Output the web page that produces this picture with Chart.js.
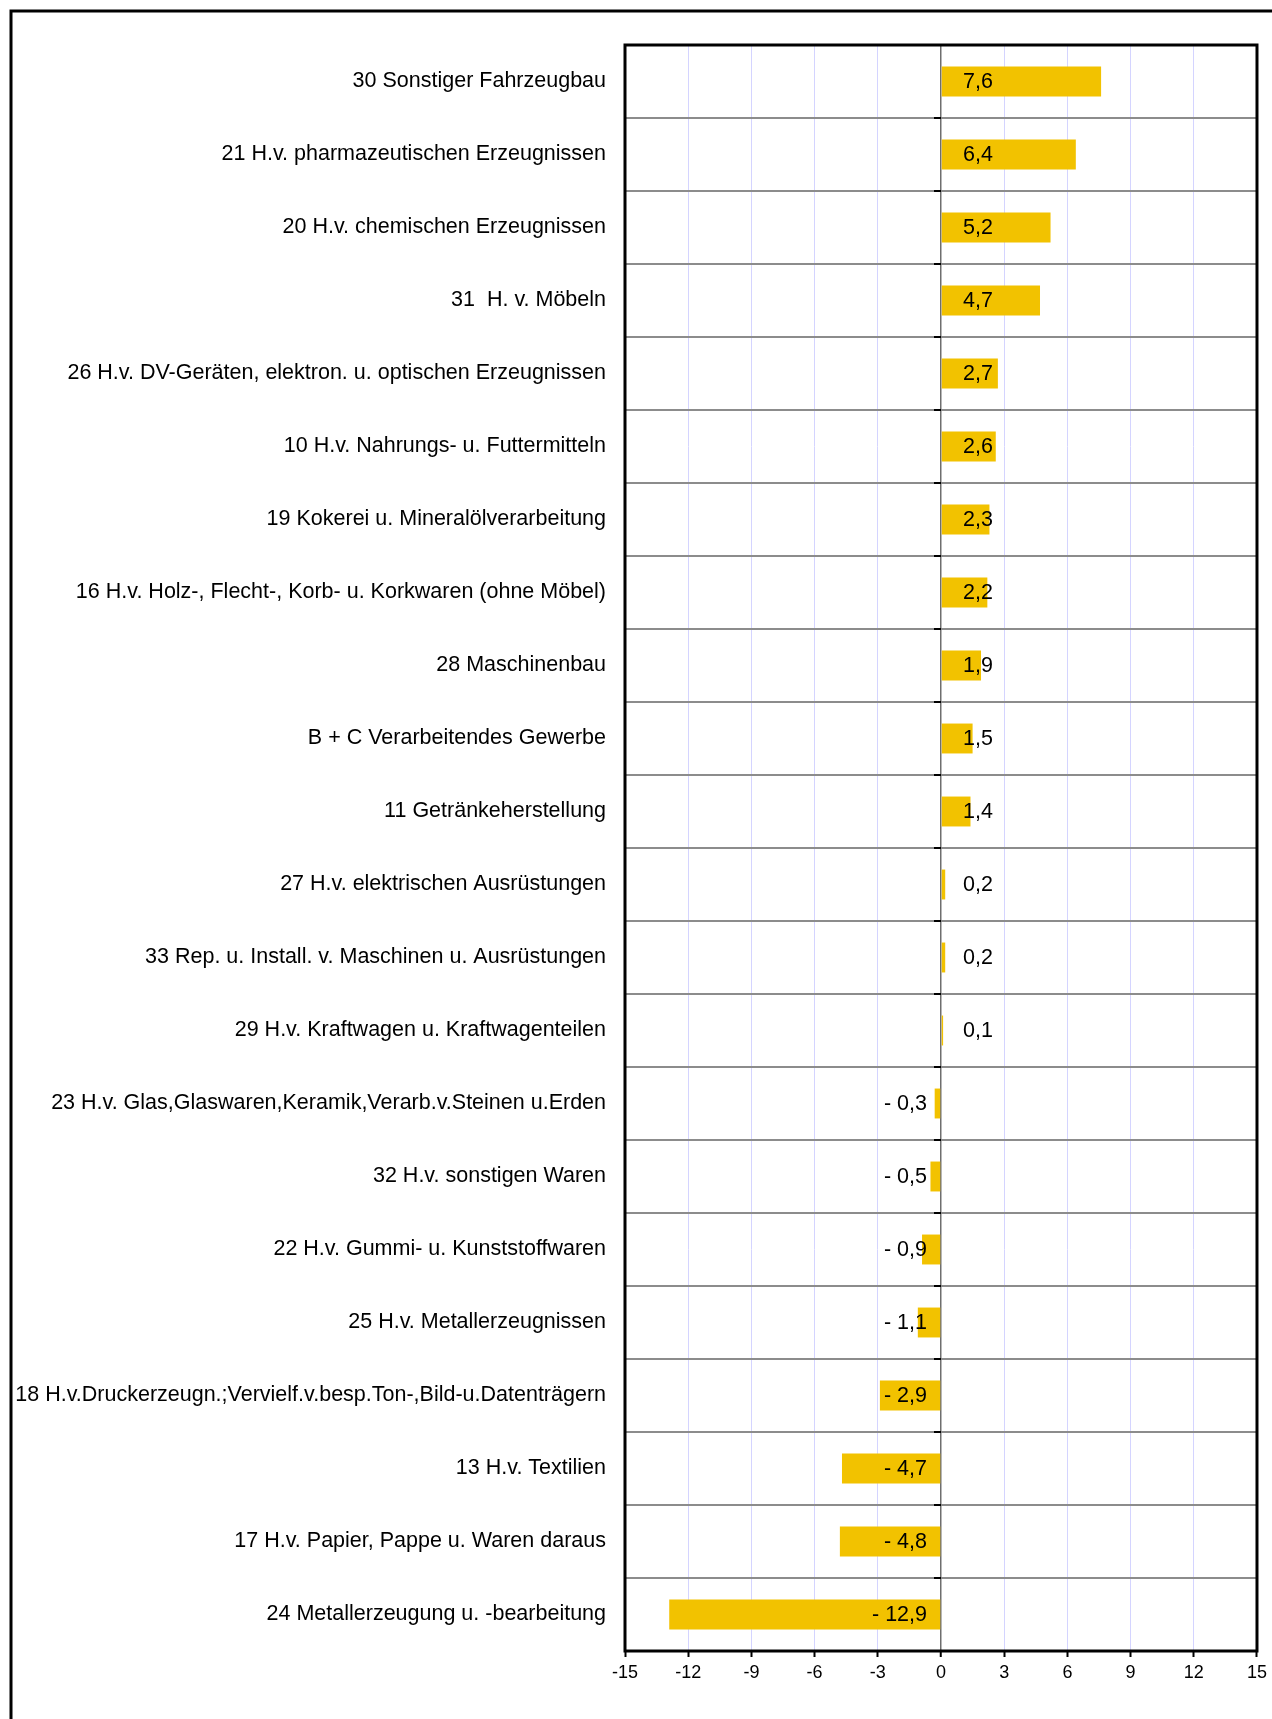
<!DOCTYPE html>
<html lang="de">
<head>
  <meta charset="UTF-8">
  <title>Verarbeitendes Gewerbe — Veränderung</title>
  <script src="https://cdn.jsdelivr.net/npm/chart.js"></script>
  <style>
    html, body { margin: 0; padding: 0; background: #fff; }
    canvas { display: block; }
  </style>
</head>
<body>
  <canvas id="chart" width="1272" height="1719"></canvas>

  <script>
    // Wirtschaftszweige (von oben nach unten)
    const categories = [
      "30 Sonstiger Fahrzeugbau",
      "21 H.v. pharmazeutischen Erzeugnissen",
      "20 H.v. chemischen Erzeugnissen",
      "31  H. v. Möbeln",
      "26 H.v. DV-Geräten, elektron. u. optischen Erzeugnissen",
      "10 H.v. Nahrungs- u. Futtermitteln",
      "19 Kokerei u. Mineralölverarbeitung",
      "16 H.v. Holz-, Flecht-, Korb- u. Korkwaren (ohne Möbel)",
      "28 Maschinenbau",
      "B + C Verarbeitendes Gewerbe",
      "11 Getränkeherstellung",
      "27 H.v. elektrischen Ausrüstungen",
      "33 Rep. u. Install. v. Maschinen u. Ausrüstungen",
      "29 H.v. Kraftwagen u. Kraftwagenteilen",
      "23 H.v. Glas,Glaswaren,Keramik,Verarb.v.Steinen u.Erden",
      "32 H.v. sonstigen Waren",
      "22 H.v. Gummi- u. Kunststoffwaren",
      "25 H.v. Metallerzeugnissen",
      "18 H.v.Druckerzeugn.;Vervielf.v.besp.Ton-,Bild-u.Datenträgern",
      "13 H.v. Textilien",
      "17 H.v. Papier, Pappe u. Waren daraus",
      "24 Metallerzeugung u. -bearbeitung"
    ];

    // Veränderung in %
    const values = [7.6, 6.4, 5.2, 4.7, 2.7, 2.6, 2.3, 2.2, 1.9, 1.5, 1.4,
                    0.2, 0.2, 0.1, -0.3, -0.5, -0.9, -1.1, -2.9, -4.7, -4.8, -12.9];

    // Achse
    const xMin = -15;
    const xMax = 15;
    const xStep = 3;

    const FONT = "'Liberation Sans', Arial, sans-serif";

    function fmt(v) {
      const s = Math.abs(v).toFixed(1).replace(".", ",");
      return v < 0 ? "- " + s : s;
    }

    // Rahmen, Null-Ticks und Wertebeschriftung
    const decorPlugin = {
      id: "decor",
      afterDraw(chart) {
        const ctx = chart.ctx;
        const area = chart.chartArea;
        const xs = chart.scales.x;
        const ys = chart.scales.y;
        const x0 = xs.getPixelForValue(0);

        ctx.save();
        // kleine Striche an der Nulllinie
        ctx.strokeStyle = "#000";
        ctx.lineWidth = 2;
        const half = (ys.getPixelForValue(1) - ys.getPixelForValue(0)) / 2;
        for (let i = 0; i <= categories.length; i++) {
          const y = ys.getPixelForValue(i) - half;
          ctx.beginPath();
          ctx.moveTo(x0 - 7, y);
          ctx.lineTo(x0, y);
          ctx.stroke();
        }

        // Werte
        ctx.fillStyle = "#000";
        ctx.font = "21.5px " + FONT;
        ctx.textBaseline = "middle";
        values.forEach((v, i) => {
          const y = ys.getPixelForValue(i) + 1;
          if (v >= 0) {
            ctx.textAlign = "left";
            ctx.fillText(fmt(v), x0 + 22, y);
          } else {
            ctx.textAlign = "right";
            ctx.fillText(fmt(v), x0 - 14, y);
          }
        });

        // Rahmen Diagrammfläche
        ctx.strokeStyle = "#000";
        ctx.lineWidth = 3;
        ctx.strokeRect(area.left, area.top, area.right - area.left, area.bottom - area.top);

        // äußerer Rahmen
        ctx.lineWidth = 3;
        ctx.strokeRect(11, 11, 1400, 1900);
        ctx.restore();
      }
    };

    new Chart(document.getElementById("chart"), {
      type: "bar",
      data: {
        labels: categories,
        datasets: [{
          data: values,
          backgroundColor: "#F2C200",
          borderWidth: 0,
          categoryPercentage: 1.0,
          barPercentage: 0.41
        }]
      },
      options: {
        indexAxis: "y",
        responsive: false,
        animation: false,
        devicePixelRatio: 1,
        layout: { padding: { top: 45, right: 14, left: 0, bottom: 0 } },
        plugins: {
          legend: { display: false },
          tooltip: { enabled: false }
        },
        scales: {
          x: {
            min: xMin,
            max: xMax,
            afterFit(s) { s.height = 68; },
            border: { display: false },
            grid: {
              color: (c) => (c.tick && c.tick.value === 0) ? "#6e6e6e" : "#d4d4ff",
              lineWidth: (c) => (c.tick && c.tick.value === 0) ? 1.5 : 1,
              drawTicks: true,
              tickLength: 6,
              tickColor: "#000",
              tickWidth: 2
            },
            ticks: {
              stepSize: xStep,
              color: "#000",
              padding: 5,
              font: { family: FONT, size: 18 },
              callback: (v) => String(v)
            }
          },
          y: {
            afterFit(s) { s.width = 625; },
            border: { display: false },
            grid: {
              offset: true,
              color: "#8c8c8c",
              lineWidth: 2,
              drawTicks: false
            },
            ticks: {
              color: "#000",
              padding: 19,
              autoSkip: false,
              font: { family: FONT, size: 21.5 }
            }
          }
        }
      },
      plugins: [decorPlugin]
    });
  </script>
</body>
</html>
